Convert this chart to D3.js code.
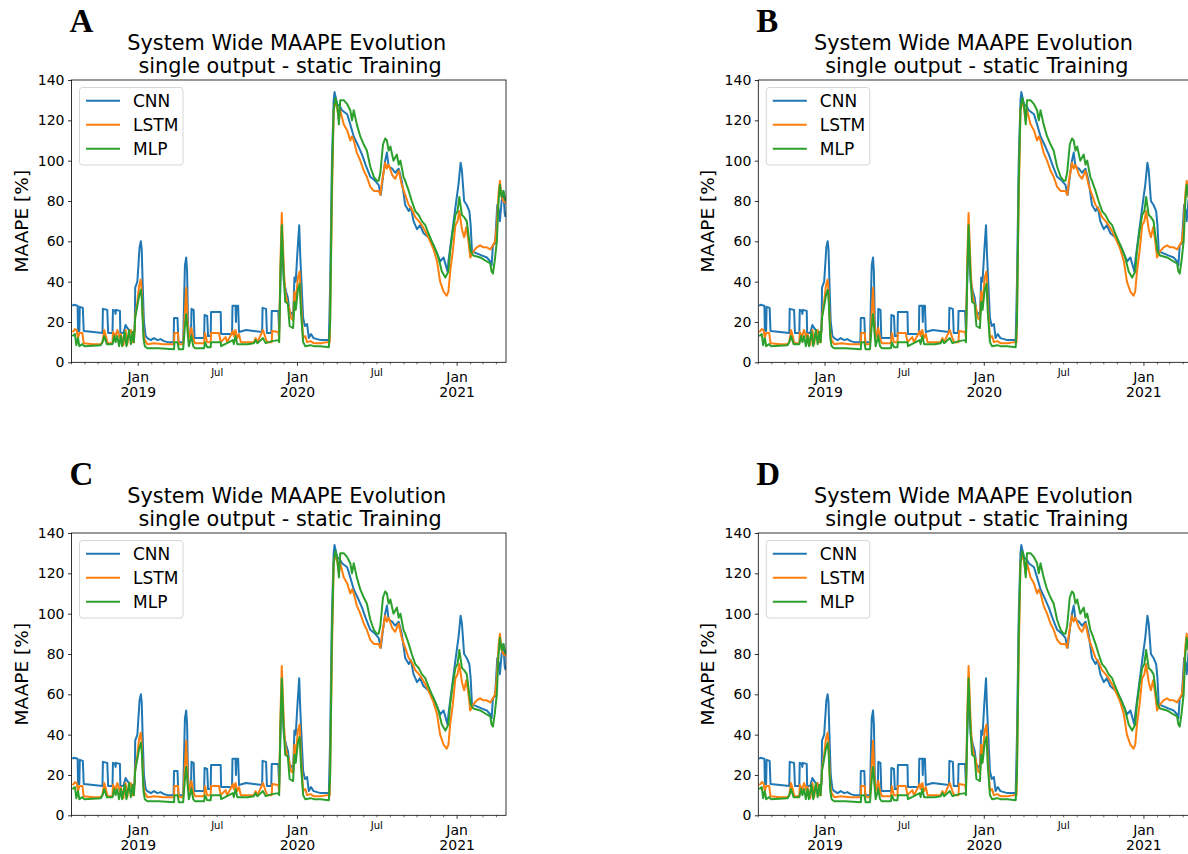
<!DOCTYPE html>
<html>
<head>
<meta charset="utf-8">
<script src="https://cdn.jsdelivr.net/npm/d3@7"></script>
<style>
  body { margin: 0; background: #fff; }
  svg { display: block; font-family: "DejaVu Sans", sans-serif; }
</style>
</head>
<body>
<div id="chart"></div>
<script>
// data: [day offset from startDate, MAAPE %]
const startDate = new Date(2018, 7, 1);
const endDate = new Date(2021, 3, 23);

const seriesNames = ["CNN", "LSTM", "MLP"];
const seriesColors = ["#1f77b4", "#ff7f0e", "#2ca02c"];
const yTicks = [0, 20, 40, 60, 80, 100, 120, 140];
const panelLetters = ["A", "B", "C", "D"];
const titleLines = ["System Wide MAAPE Evolution", " single output - static Training"];
const yLabel = "MAAPE [%]";

const cnn = [[2,28],[5,28.5],[14,28],[15,15.5],[18,15.5],[19,27.5],[26,27],[28,15.5],[50,15],[71,14.5],[72,26.5],[82,26],[84,14.5],[94,14.5],[95,26],[100,25.5],[101,24],[102,26],[111,25.5],[112,14.5],[119,14.5],[124,18.5],[128,17],[132,16],[140,15],[145,15.5],[146,37],[151,40],[156,57],[159,60],[161,56],[163,40],[166,20],[170,13],[174,12],[182,11],[189,12],[197,11],[204,11.5],[212,10.5],[220,10],[234,10],[235,22],[243,22],[245,10],[256,10],[258,30],[260,48],[263,52],[265,45],[267,20],[269,14],[274,13],[275,26.5],[280,26],[282,12],[304,12],[305,23.5],[311,23],[313,13],[319,13],[320,25],[342,25],[343,14],[368,14],[369,28],[376,28],[377,20],[378,28],[382,28],[384,15],[400,16],[418,15.5],[437,15],[438,27],[446,26.5],[448,14.5],[458,14.5],[459,25.5],[474,25.5],[476,15],[479,40],[482,60],[487,40],[492,35],[496,32],[500,25],[506,24],[508,22],[511,42],[514,40],[518,55],[521,65],[522,68],[524,55],[526,45],[531,22],[535,18],[540,19],[544,12],[549,14],[555,12],[563,11.5],[571,11],[590,11],[593,40],[597,100],[601,130],[603,134],[609,128],[615,127],[620,125],[632,123],[639,118],[647,112],[658,107],[666,103],[674,98],[685,92],[696,90],[704,88],[709,83],[714,92],[719,100],[723,104],[727,97],[735,96],[742,94],[750,96],[757,90],[761,84],[765,78],[773,75],[778,77],[784,70],[792,66],[799,68],[807,64],[818,62],[830,58],[838,54],[845,50],[853,52],[862,45],[864,50],[870,60],[876,70],[882,80],[887,88],[892,99],[895,95],[900,80],[906,78],[912,75],[915,68],[918,55],[929,54],[940,53],[952,52],[960,50],[963,48],[966,58],[971,59],[976,78],[980,75],[982,70],[986,80],[990,85],[993,74],[995,72]];

const lstm = [[2,15],[5,15.5],[8,16.5],[12,16],[15,12],[18,14.5],[25,14.5],[28,9.5],[50,9],[67,9],[71,10],[75,16],[79,13],[82,10],[84,9.5],[94,9.5],[95,15],[101,13],[105,16],[111,12],[113,14],[119,8.5],[124,16],[128,9],[132,15],[136,16],[140,10],[143,10],[146,23],[151,30],[155,38],[159,41],[161,35],[165,15],[168,11],[174,9],[190,9.5],[210,9],[235,9],[236,14.5],[244,14.5],[246,9],[256,9],[260,25],[263,37],[266,20],[269,12],[275,17],[279,12],[283,9.5],[304,9.5],[306,14.5],[311,10],[319,10],[320,14.5],[338,14.5],[342,10],[353,12.5],[357,10],[370,15.5],[372,13],[376,16],[380,12],[384,14],[388,10],[418,10],[422,12],[426,10],[439,16],[445,12],[449,10],[459,10],[460,15.5],[474,15],[476,12],[479,50],[482,74],[487,45],[490,35],[494,30],[498,28],[503,22],[508,21],[511,35],[514,30],[519,42],[523,45],[526,30],[531,12],[536,13],[540,10],[548,10.5],[555,9.5],[571,9.5],[586,10],[592,10],[597,80],[601,125],[605,130],[609,126],[613,120],[616,125],[624,118],[632,115],[639,110],[643,112],[647,110],[654,104],[662,100],[670,95],[677,92],[685,87],[693,85],[704,85],[708,83],[712,90],[716,95],[719,99],[723,96],[727,98],[735,93],[742,91],[750,95],[757,88],[765,83],[773,78],[780,76],[788,72],[796,70],[803,68],[811,65],[818,62],[830,56],[838,50],[845,40],[853,35],[860,33],[864,35],[868,45],[874,55],[880,68],[885,70],[889,75],[895,66],[900,62],[905,67],[910,60],[914,52],[921,55],[929,57],[937,58],[944,57],[952,57],[960,56],[966,58],[971,60],[975,68],[979,84],[982,90],[986,82],[990,80],[995,79]];

const mlp = [[2,13],[8,14],[11,8.5],[15,12],[18,8],[25,9],[29,8],[67,8.5],[71,10],[75,13],[81,9],[94,9],[98,13],[101,10],[105,13],[109,8],[113,13],[116,8],[122,15],[126,8],[132,16],[136,9],[140,15],[143,10],[146,22],[151,28],[155,33],[159,36],[161,32],[165,12],[168,8],[174,7],[200,7],[235,6.5],[236,10],[243,10],[246,6.5],[256,6.5],[260,18],[263,24],[267,13],[269,8],[275,13],[279,8],[283,7],[304,7],[306,10],[311,7.5],[319,7.5],[320,10],[342,10],[343,8],[370,11],[372,9],[376,13],[380,9],[404,9],[418,9.5],[422,11],[426,9.5],[439,12],[445,9.5],[460,10.5],[474,11],[476,10],[479,45],[482,68],[487,40],[490,30],[496,29],[500,18],[508,17],[511,30],[514,26],[519,36],[523,39],[526,25],[531,10],[536,8],[548,8.5],[555,8],[571,8],[590,7.5],[593,20],[597,90],[601,125],[605,131],[609,128],[613,118],[616,130],[624,130],[632,128],[639,125],[643,120],[647,125],[654,118],[662,112],[670,108],[677,105],[685,97],[693,92],[700,90],[704,90],[708,94],[714,108],[719,111],[723,110],[727,105],[731,107],[738,100],[746,103],[750,98],[754,100],[761,92],[765,90],[773,85],[780,80],[788,75],[796,73],[803,70],[811,68],[818,64],[826,60],[834,56],[841,52],[849,45],[857,42],[864,45],[868,55],[874,65],[880,73],[885,75],[889,82],[895,73],[900,72],[906,70],[912,60],[915,55],[921,53],[937,52],[952,50],[960,49],[963,45],[966,44],[970,50],[975,60],[979,80],[982,88],[986,82],[990,85],[995,80]];

const allSeries = [cnn, lstm, mlp];

const W = 1188, H = 854;
const plotW = 434.5, plotH = 282.3;
// top-left of each axes box
const panelPos = [[71.5, 80], [758.3, 80], [71.5, 533], [758.3, 533]];

const svg = d3.select("#chart").append("svg")
    .attr("width", W)
    .attr("height", H);

svg.append("rect").attr("width", W).attr("height", H).attr("fill", "#fff");

let x = d3.scaleTime().domain([startDate, endDate]).range([0, plotW]);
let y = d3.scaleLinear().domain([0, 140]).range([plotH, 0]);

let line = d3.line()
    .x(d => x(d3.timeDay.offset(startDate, d[0])))
    .y(d => y(d[1]));

let drawPanel = (i) => {
    const [px, py] = panelPos[i];
    const g = svg.append("g").attr("transform", `translate(${px},${py})`);

    // panel letter
    g.append("text")
        .attr("x", -2)
        .attr("y", -48)
        .attr("font-family", "'Liberation Serif', 'DejaVu Serif', serif")
        .attr("font-weight", "bold")
        .attr("font-size", 33)
        .attr("fill", "#000")
        .text(panelLetters[i]);

    // title (two lines)
    titleLines.forEach((t, k) => {
        g.append("text")
            .attr("x", plotW / 2 - 2)
            .attr("y", -30 + k * 23)
            .attr("text-anchor", "middle")
            .attr("font-size", 20.8)
            .style("white-space", "pre")
            .attr("fill", "#000")
            .text(t);
    });

    const clipId = "clip" + i;
    g.append("clipPath").attr("id", clipId)
        .append("rect").attr("width", plotW).attr("height", plotH);

    const lines = g.append("g").attr("clip-path", `url(#${clipId})`);
    allSeries.forEach((s, k) => {
        lines.append("path")
            .datum(s)
            .attr("d", line)
            .attr("fill", "none")
            .attr("stroke", seriesColors[k])
            .attr("stroke-width", 2)
            .attr("stroke-linejoin", "round");
    });

    // y axis
    const yAxis = g.append("g")
        .call(d3.axisLeft(y).tickValues(yTicks).tickSize(3.5).tickPadding(3.5));
    yAxis.select(".domain").remove();
    yAxis.selectAll("text").attr("font-size", 14).attr("fill", "#000").attr("font-family", "DejaVu Sans");
    yAxis.selectAll("line").attr("stroke", "#000").attr("stroke-width", 0.8);

    // x axis: monthly minor ticks, Jan major with year, Jul label
    const months = d3.timeMonth.range(startDate, d3.timeDay.offset(endDate, 1));
    const xAxis = g.append("g").attr("transform", `translate(0,${plotH})`);
    xAxis.selectAll("line.tick")
        .data(months)
        .enter().append("line")
        .attr("x1", d => x(d)).attr("x2", d => x(d))
        .attr("y1", 0)
        .attr("y2", d => d.getMonth() === 0 ? 3.5 : 2)
        .attr("stroke", "#000")
        .attr("stroke-width", d => d.getMonth() === 0 ? 0.8 : 0.6);

    const jans = months.filter(d => d.getMonth() === 0);
    const juls = months.filter(d => d.getMonth() === 6);
    xAxis.selectAll("text.jan")
        .data(jans).enter().append("text")
        .attr("x", d => x(d)).attr("y", 20)
        .attr("text-anchor", "middle").attr("font-size", 14).attr("fill", "#000")
        .text("Jan");
    xAxis.selectAll("text.year")
        .data(jans).enter().append("text")
        .attr("x", d => x(d)).attr("y", 35)
        .attr("text-anchor", "middle").attr("font-size", 14).attr("fill", "#000")
        .text(d => d.getFullYear());
    xAxis.selectAll("text.jul")
        .data(juls).enter().append("text")
        .attr("x", d => x(d)).attr("y", 14)
        .attr("text-anchor", "middle").attr("font-size", 10).attr("fill", "#000")
        .text("Jul");

    // frame
    g.append("rect")
        .attr("width", plotW).attr("height", plotH)
        .attr("fill", "none").attr("stroke", "#000").attr("stroke-width", 0.8);

    // y label
    g.append("text")
        .attr("transform", `translate(-44,${plotH / 2}) rotate(-90)`)
        .attr("text-anchor", "middle")
        .attr("font-size", 18.5)
        .attr("fill", "#000")
        .text(yLabel);

    // legend
    const lg = g.append("g").attr("transform", "translate(8,7.5)");
    lg.append("rect")
        .attr("width", 103.5).attr("height", 77.5)
        .attr("rx", 3)
        .attr("fill", "#fff").attr("fill-opacity", 0.8)
        .attr("stroke", "#ccc").attr("stroke-width", 0.8);
    seriesNames.forEach((name, k) => {
        const ly = 13.3 + k * 24;
        lg.append("line")
            .attr("x1", 6.5).attr("x2", 40.5)
            .attr("y1", ly).attr("y2", ly)
            .attr("stroke", seriesColors[k]).attr("stroke-width", 2);
        lg.append("text")
            .attr("x", 53.5).attr("y", ly + 6)
            .attr("font-size", 17)
            .attr("fill", "#000")
            .text(name);
    });
};

panelLetters.forEach((_, i) => drawPanel(i));
</script>
</body>
</html>
